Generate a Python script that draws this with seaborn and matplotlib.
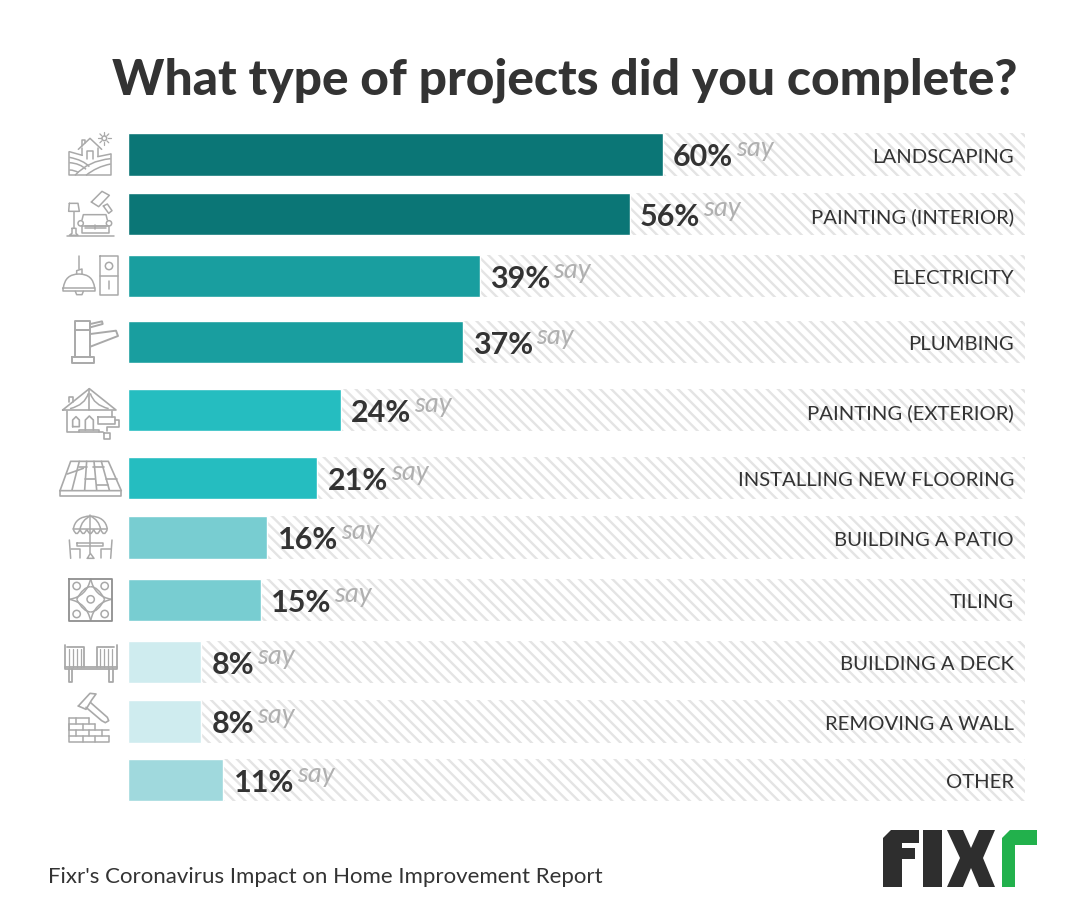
import numpy as np
import pandas as pd
import matplotlib
matplotlib.use("Agg")
import matplotlib.pyplot as plt
from matplotlib.path import Path
from matplotlib.patches import PathPatch, Circle, Polygon
import seaborn as sns

categories = ["LANDSCAPING", "PAINTING (INTERIOR)", "ELECTRICITY", "PLUMBING",
              "PAINTING (EXTERIOR)", "INSTALLING NEW FLOORING", "BUILDING A PATIO",
              "TILING", "BUILDING A DECK", "REMOVING A WALL", "OTHER"]
percent_labels = [60, 56, 39, 37, 24, 21, 16, 15, 8, 8, 11]
# bar lengths as drawn, they do not follow the labels exactly
bar_lengths = [59.6, 55.9, 39.2, 37.3, 23.7, 21.1, 15.5, 14.8, 8.1, 8.1, 10.6]
row_centers = [154.5, 214, 276, 342, 410, 478, 537.5, 600, 662, 721.5, 780]
bar_colors = ["#0b7676", "#0b7676", "#199e9f", "#199e9f", "#25bdc0", "#25bdc0",
              "#78cdd1", "#78cdd1", "#cfecef", "#cfecef", "#a0d9dd"]

W, H = 1085, 923
TEXT = "#333333"
ICON = "#a9a9a9"

sns.set_theme(style="white")
plt.rcParams["font.family"] = ["Lato", "DejaVu Sans"]
plt.rcParams["hatch.linewidth"] = 1.7
plt.rcParams["hatch.color"] = "#e4e4e4"

fig = plt.figure(figsize=(W / 100, H / 100), dpi=100)
ax = fig.add_axes([128.2 / W, 0, 896.8 / W, 1])

df = pd.DataFrame({"category": categories, "center": row_centers,
                   "length": bar_lengths, "full": 100})

sns.barplot(data=df, x="full", y="center", orient="y", native_scale=True, width=0.73,
            color="white", ax=ax)
for p in ax.patches:
    p.set_facecolor("white")
    p.set_edgecolor("#e4e4e4")
    p.set_hatch("\\\\\\")
    p.set_linewidth(0)

sns.barplot(data=df, x="length", y="center", hue="category", palette=bar_colors,
            orient="y", native_scale=True, dodge=False, width=0.73, legend=False,
            saturation=1, ax=ax)

ax.set_xlim(0, 100)
ax.set_ylim(H, 0)
ax.axis("off")

for cat, pct, length, yc in zip(categories, percent_labels, bar_lengths, row_centers):
    pct_text = ax.annotate(f"{pct}%", xy=(length, yc), xytext=(7.5, -2), textcoords="offset points",
                           ha="left", va="center", fontsize=22, fontweight="bold", color=TEXT)
    ax.annotate("say", xy=(1, 0.5), xycoords=pct_text, xytext=(2, 6), textcoords="offset points",
                ha="left", va="center", fontsize=19.5, fontstyle="italic", color="#b0b0b0")
    ax.annotate(cat, xy=(100, yc), xytext=(-8, -2), textcoords="offset points", ha="right",
                va="center", fontsize=14.6, color=TEXT)

fig.text(1018 / W, 1 - 80 / H, "What type of projects did you complete?", ha="right", va="center",
         fontsize=35.7, fontweight="black", color=TEXT)
fig.text(48 / W, 1 - 877 / H, "Fixr's Coronavirus Impact on Home Improvement Report", ha="left",
         va="center", fontsize=16.05, color=TEXT)

# overlay in pixels for the icons and the logo
deco = fig.add_axes([0, 0, 1, 1], facecolor="none")
deco.set_xlim(0, W)
deco.set_ylim(H, 0)
deco.axis("off")


def lines(ox, oy, *polys, lw=1.1, color=ICON):
    # points are given in 3x crop coordinates
    for pts in polys:
        pts = np.array(pts, dtype=float)
        deco.plot(ox + pts[:, 0] / 3, oy + pts[:, 1] / 3, color=color, lw=lw,
                  solid_capstyle="round", solid_joinstyle="round")


def curve(ox, oy, a, b, c, lw=1.1):
    pts = [(ox + x / 3, oy + y / 3) for x, y in (a, b, c)]
    deco.add_patch(PathPatch(Path(pts, [Path.MOVETO, Path.CURVE3, Path.CURVE3]), fill=False,
                             edgecolor=ICON, lw=lw))


def ring(ox, oy, x, y, r, lw=1.1):
    deco.add_patch(Circle((ox + x / 3, oy + y / 3), r / 3, fill=False, edgecolor=ICON, lw=lw))


# landscaping
ox, oy = 50, 120
lines(ox, oy, [(58, 95), (58, 166), (182, 166), (182, 102)],
      [(85, 88), (120, 55), (155, 88)], [(97, 78), (97, 60), (104, 60), (104, 68)],
      [(110, 118), (110, 92), (128, 92), (128, 118)], [(58, 95), (97, 106)], [(143, 110), (182, 102)],
      [(97, 84), (97, 106)], [(145, 84), (145, 108)])
curve(ox, oy, (58, 112), (100, 120), (118, 140))
curve(ox, oy, (58, 128), (90, 130), (108, 148))
curve(ox, oy, (75, 166), (115, 122), (182, 116))
curve(ox, oy, (108, 166), (140, 140), (182, 132))
curve(ox, oy, (58, 150), (75, 150), (85, 158))
ring(ox, oy, 163, 55, 7)
for dx, dy in [(1, 0), (0, 1), (-1, 0), (0, -1), (.7, .7), (-.7, .7), (.7, -.7), (-.7, -.7)]:
    lines(ox, oy, [(163 + 11 * dx, 55 + 11 * dy), (163 + 19 * dx, 55 + 19 * dy)], lw=0.9)

# painting interior
lines(ox, oy, [(52, 348), (192, 348)], [(72, 275), (72, 325)],
      [(58, 250), (84, 250), (88, 274), (56, 274), (58, 250)],
      [(66, 325), (78, 325), (78, 340), (84, 346), (58, 346), (66, 340), (66, 325)],
      [(96, 300), (100, 284), (168, 284), (172, 300)],
      [(100, 318), (176, 318), (176, 340), (96, 340), (96, 318)], [(104, 318), (172, 318)],
      [(104, 325), (168, 325)], [(134, 316), (134, 328)],
      [(124, 246), (156, 214), (178, 226), (146, 260), (124, 246)],
      [(160, 258), (172, 252), (186, 272), (176, 280), (160, 258)])
ring(ox, oy, 92, 310, 8)
ring(ox, oy, 177, 310, 8)

# electricity
lines(ox, oy, [(88, 408), (88, 448)], [(80, 462), (80, 452), (96, 447), (96, 462)],
      [(40, 504), (40, 514), (134, 514), (134, 504), (40, 504)],
      [(76, 514), (80, 524), (96, 524), (100, 514)],
      [(151, 408), (204, 408), (204, 526), (151, 526), (151, 408)], [(151, 468), (204, 468)],
      [(177, 484), (177, 508)])
curve(ox, oy, (40, 504), (45, 462), (87, 462))
curve(ox, oy, (134, 504), (129, 462), (87, 462))
ring(ox, oy, 177, 438, 11)

# plumbing
lines(ox, oy, [(74, 710), (74, 604), (121, 604), (121, 710)], [(74, 630), (121, 630)],
      [(65, 712), (131, 712), (131, 730), (65, 730), (65, 712)],
      [(121, 612), (156, 604), (158, 612), (121, 622)],
      [(121, 642), (198, 632), (204, 648), (121, 680)], lw=1.4)

# painting exterior
ox, oy = 50, 380
lines(ox, oy, [(38, 90), (118, 26), (198, 90), (38, 90)], [(50, 92), (50, 156), (160, 156)],
      [(56, 65), (56, 50), (70, 50), (70, 65)], [(118, 26), (118, 90)], [(186, 92), (186, 110)],
      [(68, 140), (68, 120), (78, 110), (88, 120), (88, 140), (68, 140)],
      [(106, 150), (106, 120), (118, 108), (130, 120), (130, 150)], [(88, 156), (88, 150), (148, 150), (148, 156)],
      [(143, 112), (196, 112), (196, 132), (143, 132), (143, 112)],
      [(196, 120), (208, 120), (208, 142), (172, 142), (172, 154)],
      [(163, 158), (179, 158), (179, 178), (163, 178), (163, 158)], lw=1.2)
curve(ox, oy, (60, 86), (105, 75), (115, 40))
curve(ox, oy, (176, 86), (131, 75), (121, 40))

# flooring
lines(ox, oy, [(30, 332), (62, 244), (175, 244), (214, 332), (30, 332)],
      [(30, 332), (30, 348), (214, 348), (214, 332)],
      [(66, 330), (88, 244)], [(104, 330), (110, 244)], [(140, 330), (132, 244)], [(178, 330), (154, 244)],
      [(52, 282), (100, 265)], [(106, 298), (136, 298)], [(86, 262), (110, 262)],
      [(140, 314), (174, 314)], [(168, 296), (200, 296)], [(130, 262), (162, 262)], lw=1.2)

# patio
lines(ox, oy, [(121, 405), (121, 520)], [(82, 490), (160, 490), (160, 497), (82, 497), (82, 490)],
      [(112, 535), (132, 535), (121, 520), (112, 535)],
      [(58, 480), (62, 535)], [(62, 508), (90, 508), (90, 535)], [(186, 480), (182, 535)],
      [(182, 508), (154, 508), (154, 535)], [(70, 448), (172, 448)], lw=1.1)
curve(ox, oy, (70, 448), (75, 410), (121, 408))
curve(ox, oy, (172, 448), (167, 410), (121, 408))
curve(ox, oy, (90, 448), (95, 420), (121, 408))
curve(ox, oy, (152, 448), (147, 420), (121, 408))
for x in [70, 90, 111, 131, 152]:
    curve(ox, oy, (x, 448), (x + 10, 474), (x + 20, 448))

# tiling
lines(ox, oy, [(58, 596), (185, 596), (185, 722), (58, 722), (58, 596)], lw=1.3, color="#8f8f8f")
for x, y in [(80, 618), (164, 618), (122, 658), (80, 702), (164, 702)]:
    ring(ox, oy, x, y, 11)
curve(ox, oy, (58, 658), (110, 650), (122, 596))
curve(ox, oy, (185, 658), (133, 650), (122, 596))
curve(ox, oy, (58, 658), (110, 668), (122, 722))
curve(ox, oy, (185, 658), (133, 668), (122, 722))
curve(ox, oy, (80, 658), (100, 620), (122, 620))
curve(ox, oy, (164, 658), (144, 696), (122, 696))
curve(ox, oy, (80, 658), (100, 696), (122, 696))
curve(ox, oy, (164, 658), (144, 620), (122, 620))

# deck
ox, oy = 50, 630
lines(ox, oy, [(44, 44), (44, 118), (200, 118), (200, 44)], [(44, 110), (200, 110)],
      [(50, 52), (102, 52), (102, 110)], [(142, 110), (142, 52), (192, 52)],
      [(56, 118), (56, 155), (67, 155), (67, 118)], [(178, 118), (178, 155), (189, 155), (189, 118)], lw=1.3)
for x in [58, 70, 82, 94, 150, 162, 174, 186]:
    lines(ox, oy, [(x, 58), (x, 110)], lw=0.9)

# removing a wall
lines(ox, oy, [(85, 228), (120, 190), (138, 192), (125, 210), (108, 238), (85, 228)],
      [(122, 218), (172, 262), (176, 272), (166, 278), (155, 272), (108, 232)], lw=1.2)
for y0 in [263, 281, 299, 318]:
    lines(ox, oy, [(56, y0), (176, y0)] if y0 > 290 else [(56, y0), (118 if y0 == 263 else 136, y0)], lw=1.1)
lines(ox, oy, [(56, 263), (56, 336), (176, 336), (176, 318)], [(56, 281), (56, 299)],
      [(78, 263), (78, 281)], [(98, 281), (98, 299)], [(136, 281), (136, 299)], [(118, 263), (118, 281)],
      [(78, 299), (78, 318)], [(118, 299), (118, 318)], [(156, 299), (156, 318)],
      [(98, 318), (98, 336)], [(136, 318), (136, 336)], lw=1.1)

# logo
dark = "#2e2e2e"
green = "#22b14c"
for pts, col in [
    ([(883, 887), (883, 838), (891, 830), (919, 830), (919, 843), (902, 843), (902, 848), (915, 848), (915, 859),
      (902, 859), (902, 887)], dark),
    ([(923, 830), (942, 830), (942, 887), (923, 887)], dark),
    ([(947, 830), (963, 830), (971, 848), (979, 830), (995, 830), (983, 858), (995, 887), (979, 887), (971, 868),
      (963, 887), (947, 887), (960, 858)], dark),
    ([(1002, 887), (1002, 838), (1010, 830), (1037, 830), (1037, 845), (1015, 845), (1015, 887)], green),
]:
    deco.add_patch(Polygon(pts, closed=True, facecolor=col, edgecolor="none"))

fig.savefig("out.png", dpi=100)
